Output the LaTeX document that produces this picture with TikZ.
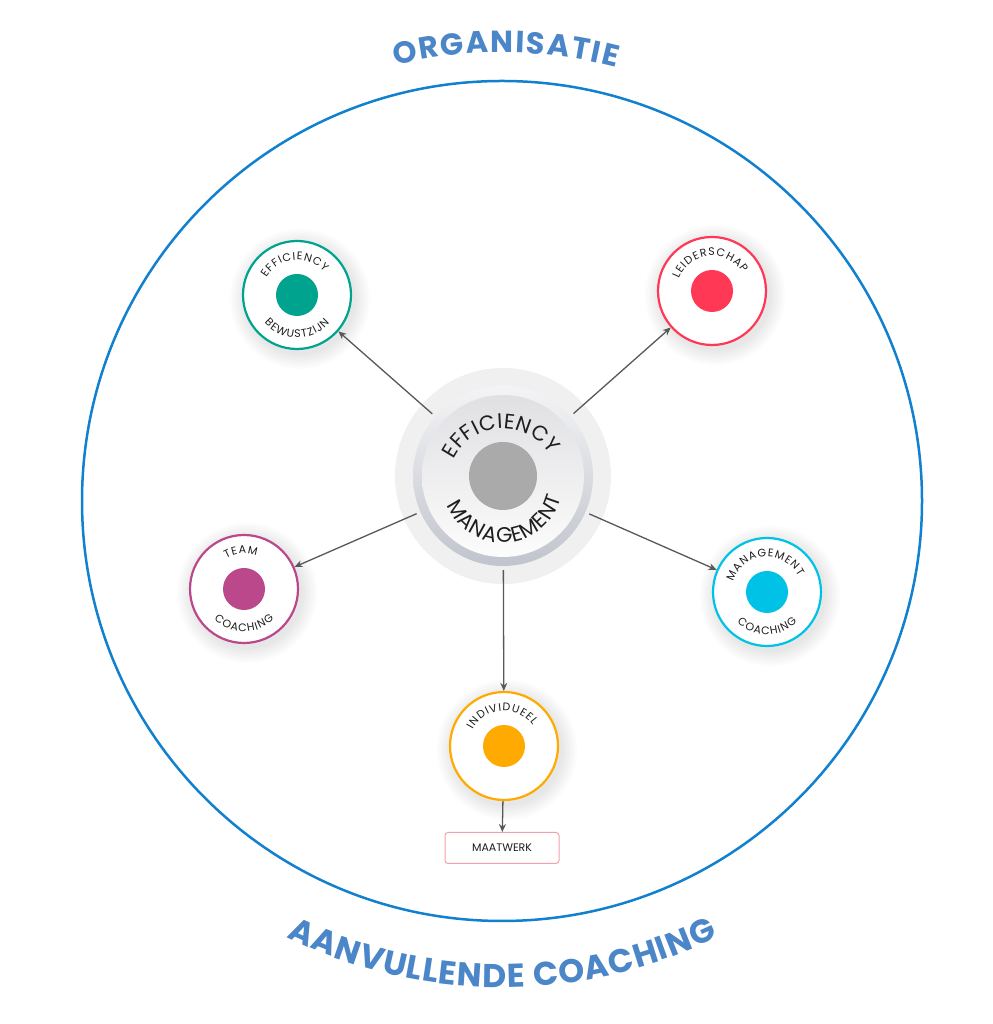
\documentclass[tikz,border=0pt]{standalone}
\usepackage{fontspec}
\setmainfont{Poppins}
\usetikzlibrary{calc,arrows.meta}
\definecolor{cteal}{RGB}{0,163,142}
\definecolor{cred}{RGB}{255,56,86}
\definecolor{cmag}{RGB}{186,72,139}
\definecolor{ccyan}{RGB}{0,194,230}
\definecolor{corange}{RGB}{255,170,0}
\definecolor{cblue}{RGB}{16,128,207}
\definecolor{ctitle}{RGB}{74,134,200}
\definecolor{cpink}{RGB}{245,160,175}
\definecolor{cline}{RGB}{88,88,88}
\definecolor{ctext}{RGB}{30,30,30}
\definecolor{cring}{RGB}{240,240,240}
\definecolor{crimtop}{RGB}{244,244,246}
\definecolor{crimbot}{RGB}{192,196,204}
\definecolor{cintop}{RGB}{224,224,227}
\definecolor{cinbot}{RGB}{252,252,252}
\definecolor{cdot}{RGB}{170,170,170}
% arc text: #1 centre, #2 baseline radius, #3 mid angle, #4 dir (1 top, -1 bottom), #5 font, #6 tracking, #7 chars
\newcommand\arctext[7]{%
  \gdef\atTot{0}%
  \foreach \ch in {#7}{%
    \node[inner sep=0pt] at (0,0) {#5\setbox0=\hbox{\ch}\xdef\atW{\the\wd0}};
    \pgfmathsetmacro\atT{\atTot+\atW+#6}%
    \xdef\atTot{\atT}%
  }%
  \pgfmathsetmacro\atT{\atTot-#6}\xdef\atTot{\atT}%
  \gdef\atPos{0}%
  \foreach \ch in {#7}{%
    \node[inner sep=0pt] at (0,0) {#5\setbox0=\hbox{\ch}\xdef\atW{\the\wd0}};
    \pgfmathsetmacro\atA{#3-(#4)*(\atPos+\atW/2-\atTot/2)/(#2)*180/pi}%
    \pgfmathsetmacro\atR{\atA-90*(#4)}%
    \node[inner sep=0pt, anchor=base, rotate=\atR] at ($(#1)+(\atA:#2pt)$) {#5\ch};
    \pgfmathsetmacro\atT{\atPos+\atW+#6}%
    \xdef\atPos{\atT}%
  }%
}
\newcommand\softshadow[1]{%
  \foreach \rr in {56,58,...,70}{\fill[black,opacity=0.012] ($(#1)+(3,-4)$) circle[radius=\rr pt];}%
}
\tikzset{
  sat/.style={circle, draw=#1, line width=2.2pt, fill=white, minimum size=108pt, inner sep=0pt},
  satdot/.style={circle, fill=#1, minimum size=42pt, inner sep=0pt},
  arr/.style={draw=cline, line width=1.3pt, -{Stealth[length=8pt,width=7pt]}},
}
\newcommand\sfont{\color{ctext}\fontsize{11}{13}\selectfont}
\newcommand\cfont{\color{ctext}\fontsize{21}{24}\selectfont}
\newcommand\tfont{\color{ctitle}\bfseries\fontsize{30.5}{34}\selectfont}
\newcommand\bfontt{\color{ctitle}\bfseries\fontsize{33}{38}\selectfont}
\begin{document}
\begin{tikzpicture}[x=1pt,y=1pt]
\fill[white] (0,0) rectangle (992,1024);
\useasboundingbox (0,0) rectangle (992,1024);
% big circle
\coordinate (O) at (502,523);
\draw[cblue, line width=2.5pt] (O) circle[radius=420pt];
% titles
\arctext{O}{448.5}{89.5}{1}{\tfont}{1.7}{O,R,G,A,N,I,S,A,T,I,E}
\arctext{O}{486.5}{270}{-1}{\bfontt}{1}{A,A,N,V,U,L,L,E,N,D,E,\ ,C,O,A,C,H,I,N,G}
% positions
\coordinate (pc) at (503,548);
\coordinate (ct) at (503,541);
\coordinate (p1) at (297,729);
\coordinate (p2) at (712,733);
\coordinate (p3) at (244,435);
\coordinate (p4) at (767,432);
\coordinate (p5) at (504,278);
% shadows
\softshadow{p1}\softshadow{p2}\softshadow{p3}\softshadow{p4}\softshadow{p5}
% centre node
\fill[cring] (pc) circle[radius=108pt];
\shade[top color=crimtop, bottom color=crimbot] (pc) circle[radius=90pt];
\shade[top color=cintop, bottom color=cinbot] (pc) circle[radius=81pt];
\fill[cdot] (pc) circle[radius=34pt];
\node[circle, minimum size=188pt, inner sep=0pt] (C) at (pc) {};
\arctext{ct}{54.7}{93}{1}{\cfont}{0.6}{E,F,F,I,C,I,E,N,C,Y}
\arctext{ct}{59.8}{274}{-1}{\cfont}{0.8}{M,A,N,A,G,E,M,E,N,T}
% satellites
\node[sat=cteal] (S1) at (p1) {};
\node[sat=cred] (S2) at (p2) {};
\node[sat=cmag] (S3) at (p3) {};
\node[sat=ccyan] (S4) at (p4) {};
\node[sat=corange] (S5) at (p5) {};
\node[satdot=cteal] (D1) at (p1) {};
\node[satdot=cred] (D2) at (p2) {};
\node[satdot=cmag] (D3) at (p3) {};
\node[satdot=ccyan] (D4) at (p4) {};
\node[satdot=corange] (D5) at (p5) {};
\arctext{p1}{35.2}{95}{1}{\sfont}{1.0}{E,F,F,I,C,I,E,N,C,Y}
\arctext{p1}{42.8}{270}{-1}{\sfont}{1.0}{B,E,W,U,S,T,Z,I,J,N}
\arctext{p2}{35.2}{95}{1}{\sfont}{1.0}{L,E,I,D,E,R,S,C,H,A,P}
\arctext{p3}{35.2}{95}{1}{\sfont}{1.0}{T,E,A,M}
\arctext{p3}{42.8}{270}{-1}{\sfont}{1.0}{C,O,A,C,H,I,N,G}
\arctext{p4}{35.2}{95}{1}{\sfont}{1.0}{M,A,N,A,G,E,M,E,N,T}
\arctext{p4}{42.8}{270}{-1}{\sfont}{1.0}{C,O,A,C,H,I,N,G}
\arctext{p5}{35.2}{94}{1}{\sfont}{1.0}{I,N,D,I,V,I,D,U,E,E,L}
% maatwerk
\node[draw=cpink, line width=1pt, rounded corners=3pt, fill=white, minimum width=114pt, minimum height=31pt, inner sep=0pt, font=\fontsize{11}{13}\selectfont, text=ctext] (M) at (502,176) {MAATWERK};
% arrows
\draw[arr] (C) -- (S1);
\draw[arr] (C) -- (S2);
\draw[arr] (C) -- (S3);
\draw[arr] (C) -- (S4);
\draw[arr] (C) -- (S5);
\draw[arr] (S5) -- (M);
\end{tikzpicture}
\end{document}
